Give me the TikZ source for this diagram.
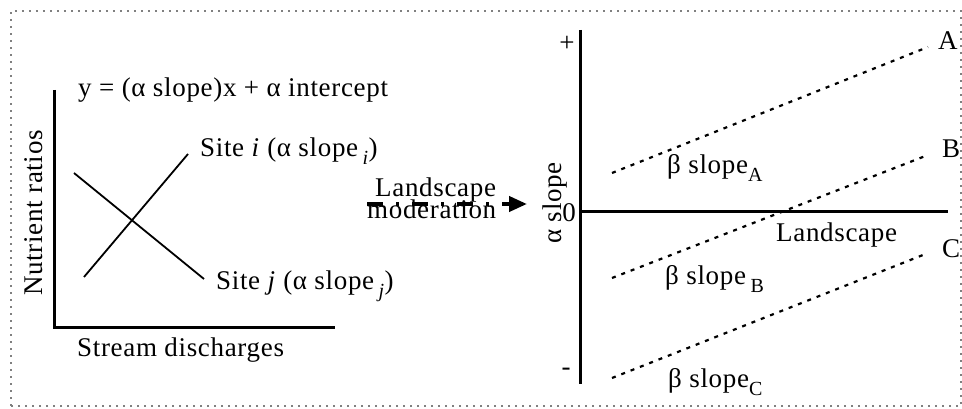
\documentclass[tikz,border=0pt]{standalone}
\usepackage{fontspec}
\setmainfont{Liberation Serif}[LetterSpace=2.5]
\usepackage{tikz}
\usetikzlibrary{arrows.meta,positioning}
\newcommand{\figfont}{\fontsize{27}{32}\selectfont}
\newcommand{\lowsub}[1]{\raisebox{-0.28em}{\fontsize{20}{22}\selectfont #1}}

\begin{document}
\begin{tikzpicture}[x=1pt,y=1pt,
  every node/.style={font=\figfont,inner sep=0pt},
  axisline/.style={line width=3pt},
  siteline/.style={line width=1.8pt},
  betaline/.style={line width=2.2pt,dash pattern=on 4pt off 6pt}]
\useasboundingbox (0,0) rectangle (962,409);
\draw[gray,line width=1.6pt,dash pattern=on 1.6pt off 5.4pt] (11,3) rectangle (961,398);

% left panel: ratios against discharge
\coordinate (lo) at (54,81);
\coordinate (ltop) at (54,319);
\coordinate (lright) at (335,81);
\draw[axisline] (ltop) -- (lo) -- (lright);
\node[rotate=90,anchor=base] (nutr) at (42,196) {Nutrient ratios};
\node[anchor=base west] (disch) at (77,52) {Stream discharges};
\node[anchor=base west] (eqn) at (78,312) {y = (α slope)x + α intercept};
\coordinate (ia) at (84,132);
\coordinate (ib) at (188,255);
\coordinate (ja) at (74,236);
\coordinate (jb) at (204,130);
\draw[siteline] (ia) -- (ib);
\draw[siteline] (ja) -- (jb);
\node[anchor=base west] (sitei) at (200,252)
  {Site \textit{i} (α slope\,\lowsub{\textit{i}})};
\node[anchor=base west] (sitej) at (216,119)
  {Site \textit{j} (α slope\,\lowsub{\textit{j}})};

% moderation arrow
\node[anchor=base west] (land) at (375,212) {Landscape};
\node[anchor=base west] (moder) at (367,190) {moderation};
\coordinate (mstart) at (367,205);
\coordinate (mend) at (527,205);
\draw[line width=4pt,dash pattern=on 16pt off 13pt on 3pt off 13pt,
      -{Triangle[length=18pt,width=15pt]}] (mstart) -- (mend);

% right panel: alpha slope against landscape
\coordinate (ro) at (580,197);
\coordinate (rtop) at (580,379);
\coordinate (rbot) at (580,25);
\coordinate (rright) at (948,197);
\draw[axisline] (rtop) -- (rbot);
\draw[axisline] (ro) -- (rright);
\node (plus) at (567,365) {+};
\node (zero) at (569,196) {0};
\node (minus) at (566,37) {-};
\node[rotate=90,anchor=base] (aslope) at (561,206) {α slope};
\node[anchor=base west] (xland) at (776,167) {Landscape};

\coordinate (aa) at (612,236);
\coordinate (ab) at (928,362);
\coordinate (ba) at (612,131);
\coordinate (bb) at (928,254);
\coordinate (ca) at (612,31);
\coordinate (cb) at (928,156);
\draw[betaline] (aa) -- (ab);
\draw[betaline] (ba) -- (bb);
\draw[betaline] (ca) -- (cb);
\node[anchor=base west] (labA) at (938,359) {A};
\node[anchor=base west] (labB) at (942,251) {B};
\node[anchor=base west] (labC) at (942,151) {C};
\node[anchor=base west] (betaA) at (667,235) {β slope\lowsub{A}};
\node[anchor=base west] (betaB) at (665,124) {β slope\,\lowsub{B}};
\node[anchor=base west] (betaC) at (668,21) {β slope\lowsub{C}};
\end{tikzpicture}
\end{document}
